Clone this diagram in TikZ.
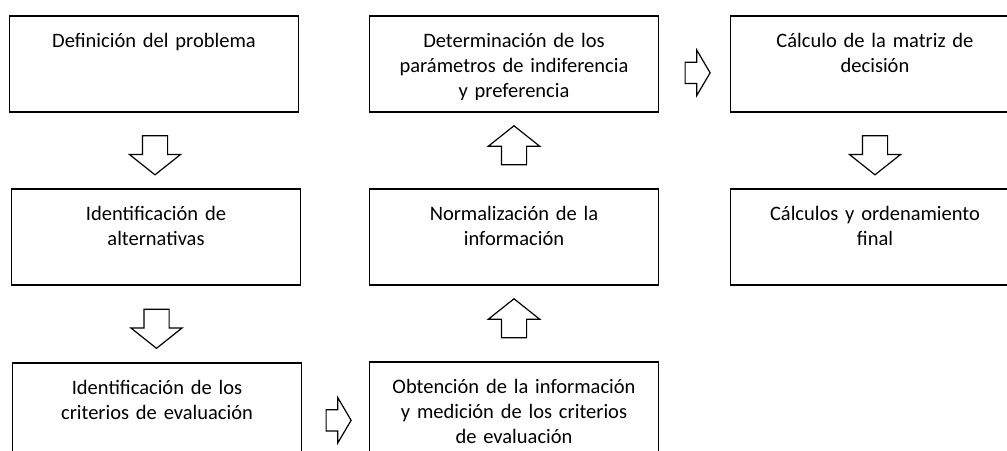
\documentclass[tikz,border=0pt]{standalone}
\usepackage{fontspec}
\setmainfont{Carlito}
\usetikzlibrary{shapes.arrows, calc}

\begin{document}
\begin{tikzpicture}[x=1pt, y=-1pt,
    caja/.style={draw, line width=1.6pt, anchor=north, minimum width=289pt, minimum height=96pt, inner sep=0pt},
    texto/.style={anchor=north, inner sep=0pt, text width=286pt, align=center, text height=32pt, font=\fontsize{20.5pt}{25pt}\selectfont},
    flecha/.style={draw, fill=white, line width=1.2pt, single arrow, inner xsep=0pt, inner ysep=12pt, minimum height=39pt, single arrow head extend=13pt, single arrow tip angle=103},
    flechita/.style={flecha, inner ysep=10pt, minimum height=25pt, single arrow head extend=12pt, single arrow tip angle=119}]

    \clip (0,0) rectangle (1007,450);

    % columna izquierda
    \node[caja] (def) at (154,15) {};
    \node[caja] (alt) at (156,188) {};
    \node[caja] (cri) at (157,362) {};
    % columna central
    \node[caja] (det) at (514,15) {};
    \node[caja] (nor) at (514,188) {};
    \node[caja] (obt) at (514,361) {};
    % columna derecha
    \node[caja] (mat) at (875,15) {};
    \node[caja] (ord) at (875,188) {};

    \node[texto] (def-t) at (def.north) {Definición del problema};
    \node[texto] (alt-t) at (alt.north) {Identificación de\\alternativas};
    \node[texto] (cri-t) at (cri.north) {Identificación de los\\criterios de evaluación};
    \node[texto] (nor-t) at (nor.north) {Normalización de la\\información};
    \node[texto] (mat-t) at (mat.north) {Cálculo de la matriz de\\decisión};
    \node[texto] (ord-t) at (ord.north) {Cálculos y ordenamiento\\final};
    \begin{scope}
        \clip (det.north west) rectangle ([yshift=13pt]det.south east);
        \node[texto] (det-t) at (det.north) {Determinación de los\\parámetros de indiferencia\\y preferencia};
    \end{scope}
    \begin{scope}
        \clip (obt.north west) rectangle ([yshift=13pt]obt.south east);
        \node[texto] (obt-t) at (obt.north) {Obtención de la información\\y medición de los criterios\\de evaluación};
    \end{scope}

    % flechas de bloque
    \node[flecha, rotate=-90] (f1) at ($(def.south)!0.5!(alt.north)$) {};
    \node[flecha, rotate=-90] (f2) at ($(alt.south)!0.5!(cri.north)$) {};
    \node[flechita] (f3) at ($(cri.east)!0.5!(obt.west)+(0,10)$) {};
    \node[flecha, rotate=90] (f4) at ($(obt.north)!0.5!(nor.south)$) {};
    \node[flecha, rotate=90] (f5) at ($(nor.north)!0.5!(det.south)$) {};
    \node[flechita] (f6) at ($(det.east)!0.5!(mat.west)+(0,9)$) {};
    \node[flecha, rotate=-90] (f7) at ($(mat.south)!0.5!(ord.north)$) {};
\end{tikzpicture}
\end{document}
